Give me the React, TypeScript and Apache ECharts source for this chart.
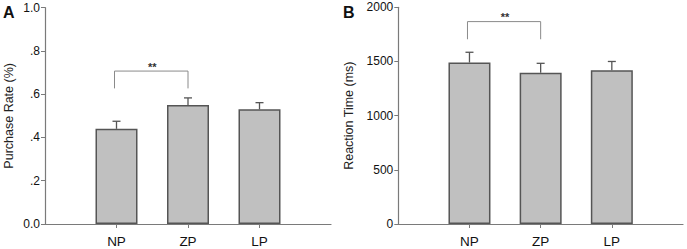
import React, { useEffect, useRef } from "react";
import * as echarts from "echarts";

const categories = ["", "NP", "ZP", "LP", ""];
const conds = ["NP", "ZP", "LP"];
const purchaseMean = [0.44, 0.55, 0.53];
const purchaseErr = [0.035, 0.033, 0.031];
const rtMean = [1490, 1395, 1420];
const rtErr = [95, 88, 80];
const yTicksA = ["0.0", ".2", ".4", ".6", ".8", "1.0"];
const yTicksB = ["0", "500", "1000", "1500", "2000"];
// significance brackets: [from index, to index, top value, foot value, label]
const sigA = [[1, 2, 0.707, 0.627, "**"]];
const sigB = [[1, 2, 1868, 1705, "**"]];

const FONT = "Liberation Sans, Arial, sans-serif";
const AXIS = "#7a7a7a";

function makeX(gridIndex: number) {
  return {
    type: "category",
    gridIndex,
    data: categories,
    boundaryGap: false,
    axisLine: { lineStyle: { color: AXIS, width: 1.2 } },
    axisTick: {
      show: true,
      length: 4,
      interval: (i: number) => i >= 1 && i <= 3,
      lineStyle: { color: AXIS },
    },
    axisLabel: { interval: 0, fontSize: 13.5, color: "#111", margin: 10, fontFamily: FONT },
  };
}

function makeY(gridIndex: number, max: number, interval: number, labels: string[], name: string, nameGap: number) {
  return {
    type: "value",
    gridIndex,
    min: 0,
    max,
    interval,
    name,
    nameLocation: "middle",
    nameGap,
    nameTextStyle: { fontSize: 12.5, color: "#222", fontFamily: FONT },
    splitLine: { show: false },
    axisLine: { show: true, lineStyle: { color: AXIS, width: 1.2 } },
    axisTick: { show: true, length: 4, lineStyle: { color: AXIS } },
    axisLabel: {
      fontSize: 12,
      color: "#111",
      margin: 5,
      fontFamily: FONT,
      formatter: (v: number) => labels[Math.round(v / interval)] ?? "",
    },
  };
}

function barSeries(idx: number, means: number[]) {
  return {
    type: "bar",
    xAxisIndex: idx,
    yAxisIndex: idx,
    barWidth: 42,
    data: conds.map((c, i) => [c, means[i]]),
    itemStyle: { color: "#c0c0c0", borderColor: "#555", borderWidth: 1.5 },
    z: 2,
  };
}

function errSeries(idx: number, means: number[], errs: number[]) {
  return {
    type: "custom",
    xAxisIndex: idx,
    yAxisIndex: idx,
    data: conds.map((c, i) => [categories.indexOf(c), means[i], means[i] + errs[i]]),
    renderItem: (params: any, api: any) => {
      const x = api.value(0);
      const p0 = api.coord([x, api.value(1)]);
      const p1 = api.coord([x, api.value(2)]);
      const style = { stroke: "#555", lineWidth: 1.3 };
      return {
        type: "group",
        children: [
          { type: "line", shape: { x1: p0[0], y1: p0[1], x2: p1[0], y2: p1[1] }, style },
          { type: "line", shape: { x1: p1[0] - 4, y1: p1[1], x2: p1[0] + 4, y2: p1[1] }, style },
        ],
      };
    },
    z: 3,
  };
}

function sigSeries(idx: number, sig: any[]) {
  return {
    type: "custom",
    xAxisIndex: idx,
    yAxisIndex: idx,
    data: sig.map((s) => [s[0], s[1], s[2], s[3]]),
    renderItem: (params: any, api: any) => {
      const a = api.value(0);
      const b = api.value(1);
      const top = api.value(2);
      const foot = api.value(3);
      const pa = api.coord([a, top]);
      const pb = api.coord([b, top]);
      const fa = api.coord([a, foot]);
      const fb = api.coord([b, foot]);
      return {
        type: "group",
        children: [
          {
            type: "polyline",
            shape: { points: [[fa[0] - 2, fa[1]], [pa[0] - 2, pa[1]], [pb[0], pb[1]], [fb[0], fb[1]]] },
            style: { stroke: "#8a8a8a", lineWidth: 1, fill: null },
          },
          {
            type: "text",
            x: (pa[0] + pb[0]) / 2,
            y: pa[1] + 1,
            style: {
              text: sig[params.dataIndex][4],
              fontSize: 11,
              fontWeight: "bold",
              fill: "#333",
              align: "center",
              verticalAlign: "bottom",
              fontFamily: FONT,
            },
          },
        ],
      };
    },
    z: 3,
  };
}

export default function App() {
  const ref = useRef<HTMLDivElement>(null);
  useEffect(() => {
    if (!ref.current) return;
    const chart = echarts.init(ref.current, null, { renderer: "svg" });
    chart.setOption({
      animation: false,
      backgroundColor: "#fff",
      grid: [
        { left: 45, right: 356, top: 7.7, bottom: 25 },
        { left: 398.3, right: 4, top: 7.3, bottom: 25 },
      ],
      xAxis: [makeX(0), makeX(1)],
      yAxis: [
        makeY(0, 1, 0.2, yTicksA, "Purchase Rate (%)", 30),
        makeY(1, 2000, 500, yTicksB, "Reaction Time (ms)", 43),
      ],
      graphic: [
        { type: "text", left: 3, top: 4, style: { text: "A", fontSize: 16, fontWeight: "bold", fill: "#111", fontFamily: FONT } },
        { type: "text", left: 343, top: 4, style: { text: "B", fontSize: 16, fontWeight: "bold", fill: "#111", fontFamily: FONT } },
      ],
      series: [
        barSeries(0, purchaseMean),
        errSeries(0, purchaseMean, purchaseErr),
        sigSeries(0, sigA),
        barSeries(1, rtMean),
        errSeries(1, rtMean, rtErr),
        sigSeries(1, sigB),
      ],
    });
    return () => chart.dispose();
  }, []);
  return (
    <div
      ref={ref}
      style={{ position: "absolute", left: 0, top: 0, width: 687, height: 249, background: "#fff" }}
    />
  );
}
